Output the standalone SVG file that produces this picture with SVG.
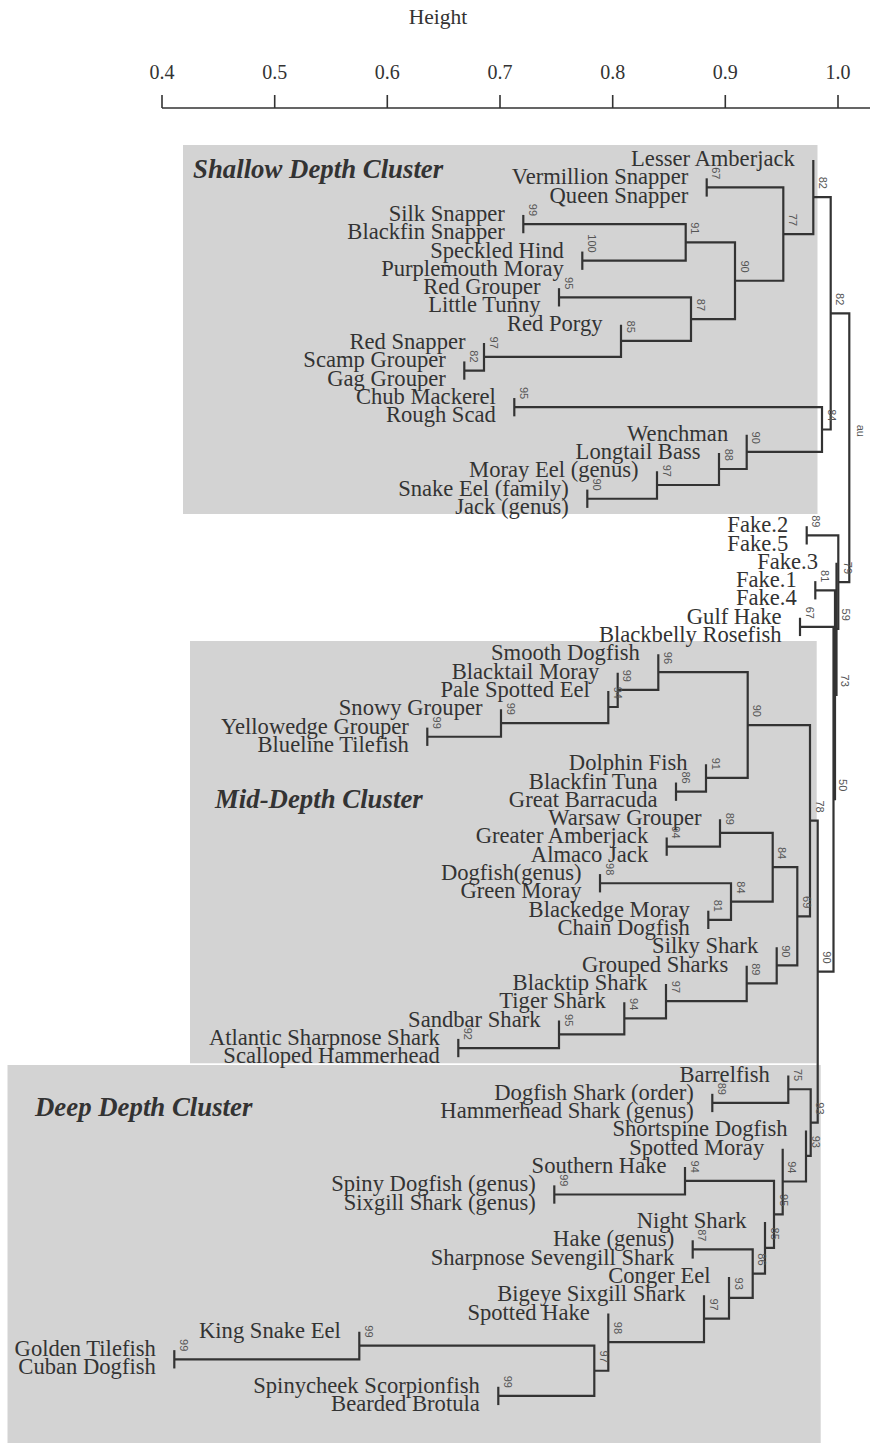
<svg xmlns="http://www.w3.org/2000/svg" width="873" height="1445" viewBox="0 0 873 1445">
<style>
.bg{fill:#ffffff}
.box{fill:#d3d3d3}
.title{font-family:"Liberation Serif",serif;font-size:26.8px;font-weight:bold;font-style:italic;fill:#333}
.leaf{font-family:"Liberation Serif",serif;font-size:22.6px;fill:#333;text-anchor:end}
.au{font-family:"Liberation Sans",sans-serif;font-size:11px;fill:#555;text-anchor:end}
.ax{font-family:"Liberation Serif",serif;font-size:20px;fill:#333;text-anchor:middle}
.axt{font-family:"Liberation Serif",serif;font-size:21.5px;fill:#333;text-anchor:middle}
.edge{fill:none;stroke:#333;stroke-width:2.2}
.axl{fill:none;stroke:#333;stroke-width:1.6}
</style>
<rect class="bg" x="0" y="0" width="873" height="1445"/>
<g id="axis">
<text class="axt" x="438" y="24">Height</text>
<path class="axl" d="M162 108 H870 M162 95 V108 M274.7 95 V108 M387.3 95 V108 M500 95 V108 M612.7 95 V108 M725.3 95 V108 M838 95 V108"/>
<text class="ax" x="162" y="79">0.4</text>
<text class="ax" x="274.7" y="79">0.5</text>
<text class="ax" x="387.3" y="79">0.6</text>
<text class="ax" x="500" y="79">0.7</text>
<text class="ax" x="612.7" y="79">0.8</text>
<text class="ax" x="725.3" y="79">0.9</text>
<text class="ax" x="838" y="79">1.0</text>
</g>
<g id="clusters">
<g id="cluster-shallow"><rect class="box" x="183" y="145" width="634.5" height="369"/><text class="title" x="193" y="178">Shallow Depth Cluster</text></g>
<g id="cluster-mid"><rect class="box" x="190" y="641" width="626.7" height="422.3"/><text class="title" x="215" y="808">Mid-Depth Cluster</text></g>
<g id="cluster-deep"><rect class="box" x="7.5" y="1065" width="813.2" height="378"/><text class="title" x="35" y="1116">Deep Depth Cluster</text></g>
</g>
<g id="connectors">
<path class="edge" d="M706.7 178.31 V196.62"/>
<path class="edge" d="M523.3 214.93 V233.24"/>
<path class="edge" d="M582.3 251.55 V269.86"/>
<path class="edge" d="M523.3 224.09 H685.7 V260.71 H582.3"/>
<path class="edge" d="M559 288.17 V306.48"/>
<path class="edge" d="M464.3 361.41 V379.72"/>
<path class="edge" d="M484 343.1 V370.57 H464.3"/>
<path class="edge" d="M621 324.79 V356.83 H484"/>
<path class="edge" d="M559 297.33 H691 V340.81 H621"/>
<path class="edge" d="M685.7 242.4 H735 V319.07 H691"/>
<path class="edge" d="M706.7 187.47 H783.3 V280.74 H735"/>
<path class="edge" d="M813.3 160 V234.1 H783.3"/>
<path class="edge" d="M514.3 398.03 V416.34"/>
<path class="edge" d="M587.3 489.58 V507.89"/>
<path class="edge" d="M657 471.27 V498.74 H587.3"/>
<path class="edge" d="M719 452.96 V485 H657"/>
<path class="edge" d="M746.7 434.65 V468.98 H719"/>
<path class="edge" d="M514.3 407.19 H822 V451.82 H746.7"/>
<path class="edge" d="M813.3 197.05 H830.7 V429.5 H822"/>
<path class="edge" d="M830.7 313.28 H849.3 V582.08 H838.3"/>
<path class="edge" d="M806.7 526.2 V544.51"/>
<path class="edge" d="M815.3 581.13 V599.44"/>
<path class="edge" d="M800 617.75 V636.06"/>
<path class="edge" d="M806.7 535.36 H838.3 V628.8 H836.5"/>
<path class="edge" d="M836.5 562.82 V694.78 H835"/>
<path class="edge" d="M815.3 590.29 H835 V799.27 H833.5"/>
<path class="edge" d="M800 626.9 H833.5 V971.63 H817.7"/>
<path class="edge" d="M427.3 727.61 V745.92"/>
<path class="edge" d="M501 709.3 V736.77 H427.3"/>
<path class="edge" d="M608.3 690.99 V723.03 H501"/>
<path class="edge" d="M617.7 672.68 V707.01 H608.3"/>
<path class="edge" d="M658.3 654.37 V689.85 H617.7"/>
<path class="edge" d="M676 782.54 V800.85"/>
<path class="edge" d="M706 764.23 V791.7 H676"/>
<path class="edge" d="M658.3 672.11 H747.7 V777.96 H706"/>
<path class="edge" d="M666.7 837.47 V855.78"/>
<path class="edge" d="M720 819.16 V846.62 H666.7"/>
<path class="edge" d="M600 874.09 V892.4"/>
<path class="edge" d="M708.3 910.71 V929.02"/>
<path class="edge" d="M600 883.25 H731 V919.87 H708.3"/>
<path class="edge" d="M720 832.89 H772.7 V901.56 H731"/>
<path class="edge" d="M458.3 1038.88 V1057.19"/>
<path class="edge" d="M559 1020.57 V1048.04 H458.3"/>
<path class="edge" d="M624.3 1002.26 V1034.3 H559"/>
<path class="edge" d="M666 983.95 V1018.28 H624.3"/>
<path class="edge" d="M746.7 965.64 V1001.12 H666"/>
<path class="edge" d="M776.7 947.33 V983.38 H746.7"/>
<path class="edge" d="M772.7 867.22 H797.3 V965.35 H776.7"/>
<path class="edge" d="M747.7 725.04 H810 V916.29 H797.3"/>
<path class="edge" d="M810 820.66 H817.7 V1122.6 H810.7"/>
<path class="edge" d="M712.3 1093.81 V1112.12"/>
<path class="edge" d="M788.3 1075.5 V1102.97 H712.3"/>
<path class="edge" d="M788.3 1089.23 H810.7 V1155.97 H806"/>
<path class="edge" d="M554.3 1185.36 V1203.67"/>
<path class="edge" d="M685 1167.05 V1194.52 H554.3"/>
<path class="edge" d="M692.7 1240.29 V1258.6"/>
<path class="edge" d="M174.3 1350.15 V1368.46"/>
<path class="edge" d="M359.3 1331.84 V1359.31 H174.3"/>
<path class="edge" d="M498.3 1386.77 V1405.08"/>
<path class="edge" d="M359.3 1345.57 H594.3 V1395.93 H498.3"/>
<path class="edge" d="M608.3 1313.53 V1370.75 H594.3"/>
<path class="edge" d="M704 1295.22 V1342.14 H608.3"/>
<path class="edge" d="M729 1276.91 V1318.68 H704"/>
<path class="edge" d="M692.7 1249.45 H752.7 V1297.8 H729"/>
<path class="edge" d="M765 1221.98 V1273.62 H752.7"/>
<path class="edge" d="M685 1180.78 H774 V1247.8 H765"/>
<path class="edge" d="M782.7 1148.74 V1214.29 H774"/>
<path class="edge" d="M806 1130.43 V1181.52 H782.7"/>
</g>
<g id="au-values">
<text class="au" transform="translate(712.2,179.5) rotate(90)">67</text>
<text class="au" transform="translate(528.8,216.1) rotate(90)">99</text>
<text class="au" transform="translate(587.8,252.7) rotate(90)">100</text>
<text class="au" transform="translate(691.2,234.4) rotate(90)">91</text>
<text class="au" transform="translate(564.5,289.3) rotate(90)">95</text>
<text class="au" transform="translate(469.8,362.6) rotate(90)">82</text>
<text class="au" transform="translate(489.5,348.8) rotate(90)">97</text>
<text class="au" transform="translate(626.5,332.8) rotate(90)">85</text>
<text class="au" transform="translate(696.5,311.1) rotate(90)">87</text>
<text class="au" transform="translate(740.5,272.7) rotate(90)">90</text>
<text class="au" transform="translate(788.8,226.1) rotate(90)">77</text>
<text class="au" transform="translate(818.8,189) rotate(90)">82</text>
<text class="au" transform="translate(519.8,399.2) rotate(90)">95</text>
<text class="au" transform="translate(592.8,490.7) rotate(90)">90</text>
<text class="au" transform="translate(662.5,477) rotate(90)">97</text>
<text class="au" transform="translate(724.5,461) rotate(90)">88</text>
<text class="au" transform="translate(752.2,443.8) rotate(90)">90</text>
<text class="au" transform="translate(827.5,421.5) rotate(90)">84</text>
<text class="au" transform="translate(836.2,305.3) rotate(90)">82</text>
<text class="au" transform="translate(857,437) rotate(90)" text-anchor="middle">au</text>
<text class="au" transform="translate(812.2,527.4) rotate(90)">89</text>
<text class="au" transform="translate(820.8,582.3) rotate(90)">81</text>
<text class="au" transform="translate(805.5,618.9) rotate(90)">67</text>
<text class="au" transform="translate(843.8,574.1) rotate(90)">79</text>
<text class="au" transform="translate(842,620.8) rotate(90)">59</text>
<text class="au" transform="translate(840.5,686.8) rotate(90)">73</text>
<text class="au" transform="translate(839,791.3) rotate(90)">50</text>
<text class="au" transform="translate(823.2,963.6) rotate(90)">90</text>
<text class="au" transform="translate(432.8,728.8) rotate(90)">99</text>
<text class="au" transform="translate(506.5,715) rotate(90)">99</text>
<text class="au" transform="translate(613.8,699) rotate(90)">94</text>
<text class="au" transform="translate(623.2,681.9) rotate(90)">99</text>
<text class="au" transform="translate(663.8,664.1) rotate(90)">96</text>
<text class="au" transform="translate(681.5,783.7) rotate(90)">86</text>
<text class="au" transform="translate(711.5,770) rotate(90)">91</text>
<text class="au" transform="translate(753.2,717) rotate(90)">90</text>
<text class="au" transform="translate(672.2,838.6) rotate(90)">94</text>
<text class="au" transform="translate(725.5,824.9) rotate(90)">89</text>
<text class="au" transform="translate(605.5,875.3) rotate(90)">98</text>
<text class="au" transform="translate(713.8,911.9) rotate(90)">81</text>
<text class="au" transform="translate(736.5,893.6) rotate(90)">84</text>
<text class="au" transform="translate(778.2,859.2) rotate(90)">84</text>
<text class="au" transform="translate(463.8,1040) rotate(90)">92</text>
<text class="au" transform="translate(564.5,1026.3) rotate(90)">95</text>
<text class="au" transform="translate(629.8,1010.3) rotate(90)">94</text>
<text class="au" transform="translate(671.5,993.1) rotate(90)">97</text>
<text class="au" transform="translate(752.2,975.4) rotate(90)">89</text>
<text class="au" transform="translate(782.2,957.4) rotate(90)">90</text>
<text class="au" transform="translate(802.8,908.3) rotate(90)">69</text>
<text class="au" transform="translate(815.5,812.7) rotate(90)">78</text>
<text class="au" transform="translate(717.8,1095) rotate(90)">89</text>
<text class="au" transform="translate(793.8,1081.2) rotate(90)">75</text>
<text class="au" transform="translate(816.2,1114.6) rotate(90)">93</text>
<text class="au" transform="translate(559.8,1186.5) rotate(90)">99</text>
<text class="au" transform="translate(690.5,1172.8) rotate(90)">94</text>
<text class="au" transform="translate(698.2,1241.5) rotate(90)">87</text>
<text class="au" transform="translate(179.8,1351.3) rotate(90)">99</text>
<text class="au" transform="translate(364.8,1337.6) rotate(90)">99</text>
<text class="au" transform="translate(503.8,1387.9) rotate(90)">99</text>
<text class="au" transform="translate(599.8,1362.8) rotate(90)">97</text>
<text class="au" transform="translate(613.8,1334.1) rotate(90)">98</text>
<text class="au" transform="translate(709.5,1310.7) rotate(90)">97</text>
<text class="au" transform="translate(734.5,1289.8) rotate(90)">93</text>
<text class="au" transform="translate(758.2,1265.6) rotate(90)">86</text>
<text class="au" transform="translate(770.5,1239.8) rotate(90)">85</text>
<text class="au" transform="translate(779.5,1206.3) rotate(90)">95</text>
<text class="au" transform="translate(788.2,1173.5) rotate(90)">94</text>
<text class="au" transform="translate(811.5,1148) rotate(90)">93</text>
</g>
<g id="leaves">
<g id="n01"><text class="leaf" x="794.8" y="166">Lesser Amberjack</text></g>
<g id="n02"><text class="leaf" x="688.2" y="184.31">Vermillion Snapper</text></g>
<g id="n03"><text class="leaf" x="688.2" y="202.62">Queen Snapper</text></g>
<g id="n04"><text class="leaf" x="504.8" y="220.93">Silk Snapper</text></g>
<g id="n05"><text class="leaf" x="504.8" y="239.24">Blackfin Snapper</text></g>
<g id="n06"><text class="leaf" x="563.8" y="257.55">Speckled Hind</text></g>
<g id="n07"><text class="leaf" x="563.8" y="275.86">Purplemouth Moray</text></g>
<g id="n08"><text class="leaf" x="540.5" y="294.17">Red Grouper</text></g>
<g id="n09"><text class="leaf" x="540.5" y="312.48">Little Tunny</text></g>
<g id="n10"><text class="leaf" x="602.5" y="330.79">Red Porgy</text></g>
<g id="n11"><text class="leaf" x="465.5" y="349.1">Red Snapper</text></g>
<g id="n12"><text class="leaf" x="445.8" y="367.41">Scamp Grouper</text></g>
<g id="n13"><text class="leaf" x="445.8" y="385.72">Gag Grouper</text></g>
<g id="n14"><text class="leaf" x="495.8" y="404.03">Chub Mackerel</text></g>
<g id="n15"><text class="leaf" x="495.8" y="422.34">Rough Scad</text></g>
<g id="n16"><text class="leaf" x="728.2" y="440.65">Wenchman</text></g>
<g id="n17"><text class="leaf" x="700.5" y="458.96">Longtail Bass</text></g>
<g id="n18"><text class="leaf" x="638.5" y="477.27">Moray Eel (genus)</text></g>
<g id="n19"><text class="leaf" x="568.8" y="495.58">Snake Eel (family)</text></g>
<g id="n20"><text class="leaf" x="568.8" y="513.89">Jack (genus)</text></g>
<g id="n21"><text class="leaf" x="788.2" y="532.2">Fake.2</text></g>
<g id="n22"><text class="leaf" x="788.2" y="550.51">Fake.5</text></g>
<g id="n23"><text class="leaf" x="818" y="568.82">Fake.3</text></g>
<g id="n24"><text class="leaf" x="796.8" y="587.13">Fake.1</text></g>
<g id="n25"><text class="leaf" x="796.8" y="605.44">Fake.4</text></g>
<g id="n26"><text class="leaf" x="781.5" y="623.75">Gulf Hake</text></g>
<g id="n27"><text class="leaf" x="781.5" y="642.06">Blackbelly Rosefish</text></g>
<g id="n28"><text class="leaf" x="639.8" y="660.37">Smooth Dogfish</text></g>
<g id="n29"><text class="leaf" x="599.2" y="678.68">Blacktail Moray</text></g>
<g id="n30"><text class="leaf" x="589.8" y="696.99">Pale Spotted Eel</text></g>
<g id="n31"><text class="leaf" x="482.5" y="715.3">Snowy Grouper</text></g>
<g id="n32"><text class="leaf" x="408.8" y="733.61">Yellowedge Grouper</text></g>
<g id="n33"><text class="leaf" x="408.8" y="751.92">Blueline Tilefish</text></g>
<g id="n34"><text class="leaf" x="687.5" y="770.23">Dolphin Fish</text></g>
<g id="n35"><text class="leaf" x="657.5" y="788.54">Blackfin Tuna</text></g>
<g id="n36"><text class="leaf" x="657.5" y="806.85">Great Barracuda</text></g>
<g id="n37"><text class="leaf" x="701.5" y="825.16">Warsaw Grouper</text></g>
<g id="n38"><text class="leaf" x="648.2" y="843.47">Greater Amberjack</text></g>
<g id="n39"><text class="leaf" x="648.2" y="861.78">Almaco Jack</text></g>
<g id="n40"><text class="leaf" x="581.5" y="880.09">Dogfish(genus)</text></g>
<g id="n41"><text class="leaf" x="581.5" y="898.4">Green Moray</text></g>
<g id="n42"><text class="leaf" x="689.8" y="916.71">Blackedge Moray</text></g>
<g id="n43"><text class="leaf" x="689.8" y="935.02">Chain Dogfish</text></g>
<g id="n44"><text class="leaf" x="758.2" y="953.33">Silky Shark</text></g>
<g id="n45"><text class="leaf" x="728.2" y="971.64">Grouped Sharks</text></g>
<g id="n46"><text class="leaf" x="647.5" y="989.95">Blacktip Shark</text></g>
<g id="n47"><text class="leaf" x="605.8" y="1008.26">Tiger Shark</text></g>
<g id="n48"><text class="leaf" x="540.5" y="1026.57">Sandbar Shark</text></g>
<g id="n49"><text class="leaf" x="439.8" y="1044.88">Atlantic Sharpnose Shark</text></g>
<g id="n50"><text class="leaf" x="439.8" y="1063.19">Scalloped Hammerhead</text></g>
<g id="n51"><text class="leaf" x="769.8" y="1081.5">Barrelfish</text></g>
<g id="n52"><text class="leaf" x="693.8" y="1099.81">Dogfish Shark (order)</text></g>
<g id="n53"><text class="leaf" x="693.8" y="1118.12">Hammerhead Shark (genus)</text></g>
<g id="n54"><text class="leaf" x="787.5" y="1136.43">Shortspine Dogfish</text></g>
<g id="n55"><text class="leaf" x="764.2" y="1154.74">Spotted Moray</text></g>
<g id="n56"><text class="leaf" x="666.5" y="1173.05">Southern Hake</text></g>
<g id="n57"><text class="leaf" x="535.8" y="1191.36">Spiny Dogfish (genus)</text></g>
<g id="n58"><text class="leaf" x="535.8" y="1209.67">Sixgill Shark (genus)</text></g>
<g id="n59"><text class="leaf" x="746.5" y="1227.98">Night Shark</text></g>
<g id="n60"><text class="leaf" x="674.2" y="1246.29">Hake (genus)</text></g>
<g id="n61"><text class="leaf" x="674.2" y="1264.6">Sharpnose Sevengill Shark</text></g>
<g id="n62"><text class="leaf" x="710.5" y="1282.91">Conger Eel</text></g>
<g id="n63"><text class="leaf" x="685.5" y="1301.22">Bigeye Sixgill Shark</text></g>
<g id="n64"><text class="leaf" x="589.8" y="1319.53">Spotted Hake</text></g>
<g id="n65"><text class="leaf" x="340.8" y="1337.84">King Snake Eel</text></g>
<g id="n66"><text class="leaf" x="155.8" y="1356.15">Golden Tilefish</text></g>
<g id="n67"><text class="leaf" x="155.8" y="1374.46">Cuban Dogfish</text></g>
<g id="n68"><text class="leaf" x="479.8" y="1392.77">Spinycheek Scorpionfish</text></g>
<g id="n69"><text class="leaf" x="479.8" y="1411.08">Bearded Brotula</text></g>
</g>
</svg>
